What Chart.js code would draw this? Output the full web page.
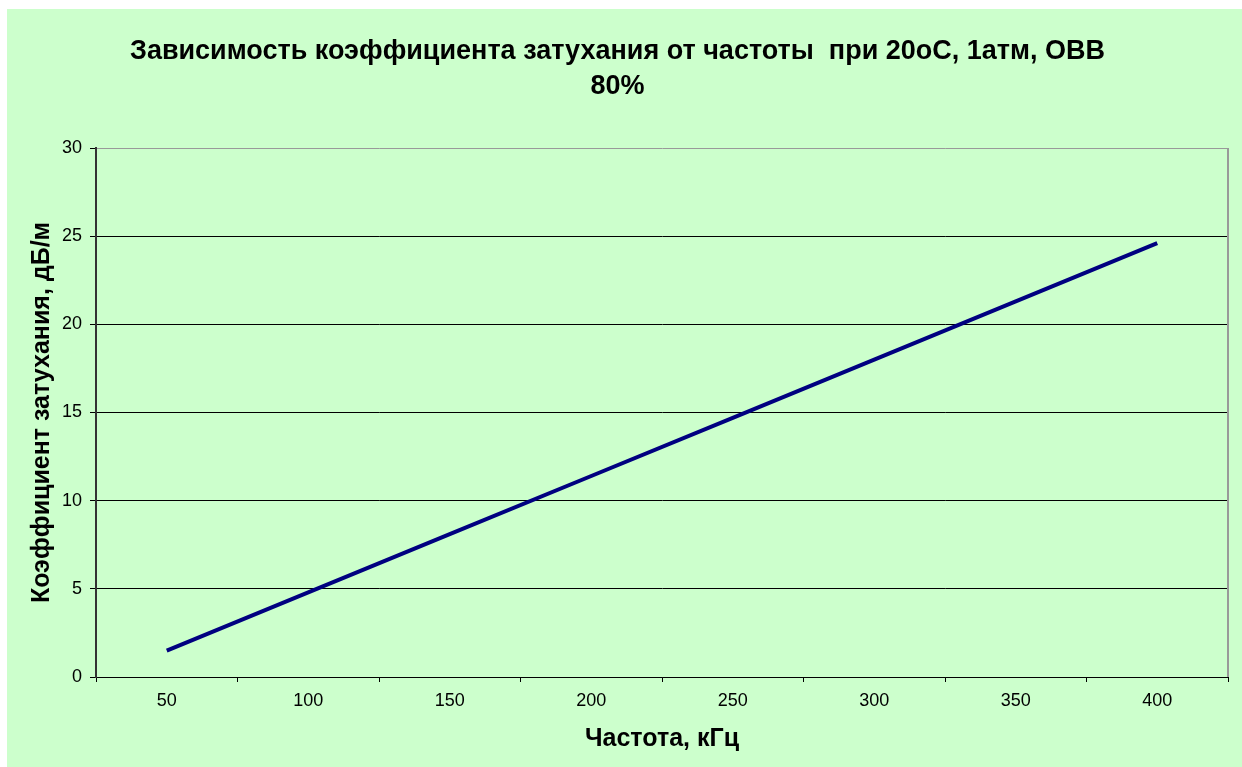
<!DOCTYPE html>
<html>
<head>
<meta charset="utf-8">
<script src="https://cdn.jsdelivr.net/npm/chart.js@4.4.1/dist/chart.umd.min.js"></script>
<style>
  html, body { margin: 0; padding: 0; background: #fff; }
  #box { position: absolute; left: 7px; top: 9px; width: 1235px; height: 758px; background: #ccffcc; }
</style>
</head>
<body>
<div id="box"><canvas id="attChart" width="1235" height="758"></canvas></div>
<script>
// частоты, кГц
var freqs = ['50', '100', '150', '200', '250', '300', '350', '400'];
// коэффициент затухания, дБ/м
var attenuation = [1.5, 4.8, 8.1, 11.4, 14.7, 18.0, 21.3, 24.6];
var yTicks = [0, 5, 10, 15, 20, 25, 30];

var titleLines = ['Зависимость коэффициента затухания от частоты  при 20оС, 1атм, ОВВ', '80%'];

var ctx = document.getElementById('attChart').getContext('2d');

new Chart(ctx, {
  type: 'line',
  data: {
    labels: freqs,
    datasets: [{
      label: 'затухание',
      data: attenuation,
      borderColor: '#000080',
      borderWidth: 4,
      pointRadius: 0,
      tension: 0,
      fill: false
    }]
  },
  options: {
    responsive: false,
    animation: false,
    layout: { padding: { left: 0, right: 14, top: 0, bottom: 0 } },
    plugins: {
      legend: { display: false },
      tooltip: { enabled: false },
      title: {
        display: true,
        text: titleLines,
        color: '#000',
        font: { family: 'Arial, "Liberation Sans"', size: 27, weight: 'bold', lineHeight: '35px' },
        padding: { top: 25, bottom: 44 }
      }
    },
    scales: {
      x: {
        type: 'category',
        offset: true,
        grid: { offset: true, drawOnChartArea: false, color: '#000', tickLength: 5, tickColor: '#000' },
        border: { color: '#000', width: 1 },
        ticks: { color: '#000', padding: 8, font: { family: 'Arial, "Liberation Sans"', size: 18 } },
        title: {
          display: true,
          text: 'Частота, кГц',
          color: '#000',
          font: { family: 'Arial, "Liberation Sans"', size: 25, weight: 'bold' },
          padding: { top: 0, bottom: 13 }
        },
        afterFit: function (scale) { scale.height = 90; }
      },
      y: {
        min: 0,
        max: 30,
        afterBuildTicks: function (scale) {
          scale.ticks = yTicks.map(function (v) { return { value: v }; });
        },
        grid: {
          color: function (c) { return c.tick && c.tick.value === 30 ? '#999' : '#000'; },
          tickLength: 6,
          tickColor: '#000'
        },
        border: { color: '#333', width: 2 },
        ticks: { color: '#000', padding: 8, font: { family: 'Arial, "Liberation Sans"', size: 18 } },
        title: {
          display: true,
          text: 'Коэффициент затухания, дБ/м',
          color: '#000',
          font: { family: 'Arial, "Liberation Sans"', size: 25, weight: 'bold' },
          padding: { top: 20, bottom: 0 }
        },
        afterFit: function (scale) { scale.width = 89; }
      }
    }
  },
  plugins: [{
    id: 'rightBorder',
    afterDraw: function (chart) {
      var a = chart.chartArea;
      var c = chart.ctx;
      c.save();
      c.strokeStyle = '#999';
      c.lineWidth = 2;
      c.beginPath();
      c.moveTo(a.right, a.top);
      c.lineTo(a.right, a.bottom);
      c.stroke();
      c.restore();
    }
  }]
});
</script>
</body>
</html>
